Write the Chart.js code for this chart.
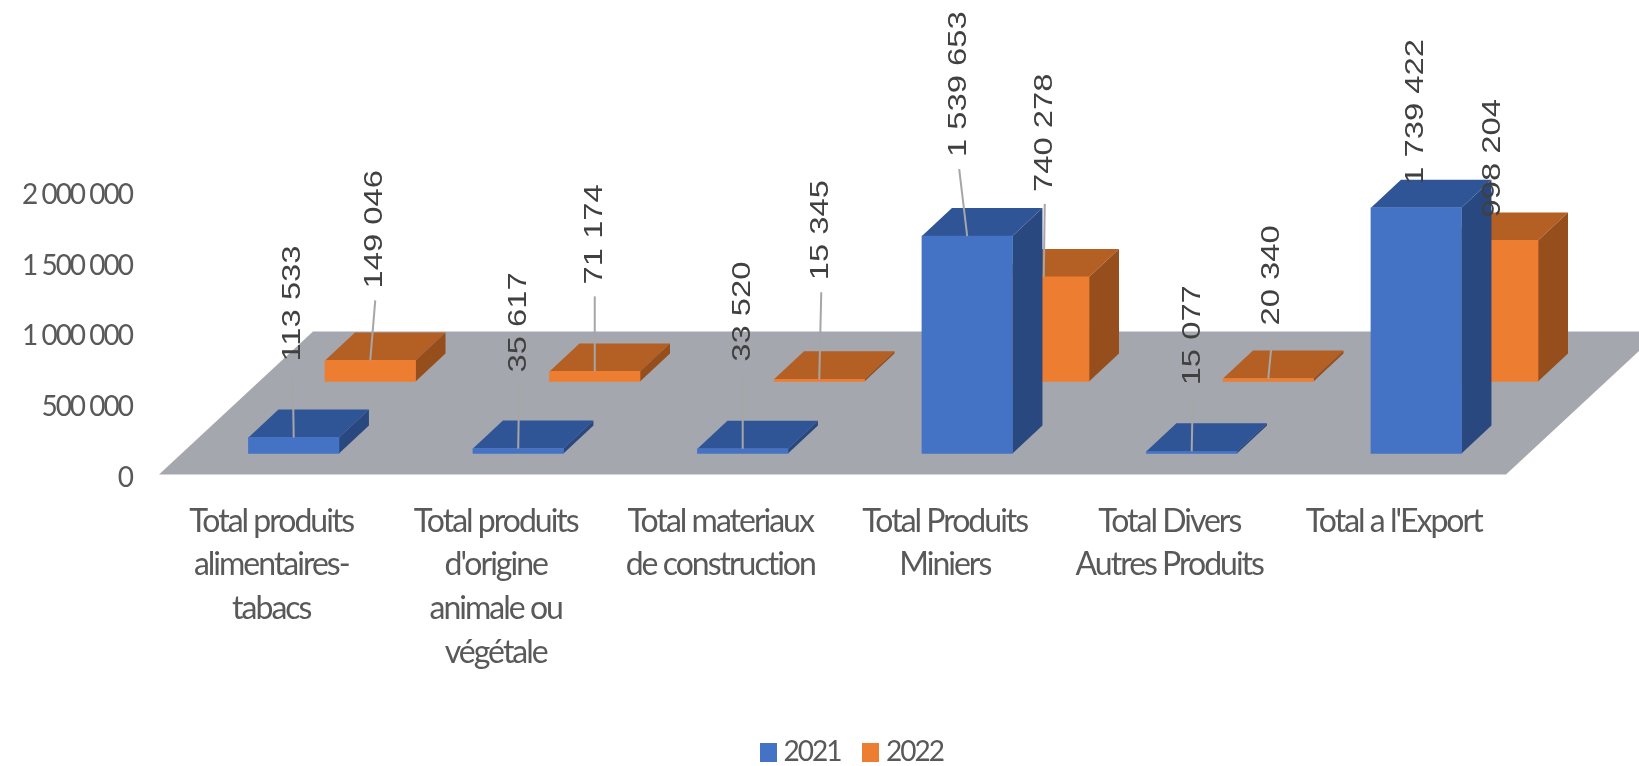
<!DOCTYPE html>
<html>
<head>
<meta charset="utf-8">
<title>Exportations 2021-2022</title>
<script src="https://cdn.jsdelivr.net/npm/chart.js@4/dist/chart.umd.min.js"></script>
<style>
  body { margin: 0; background: #fff; overflow: hidden; }
  canvas { display: block; }
</style>
</head>
<body>
<canvas id="bar-chart" width="1639" height="766"></canvas>
<script>
var categories = [
    ['Total produits', 'alimentaires-', 'tabacs'],
    ['Total produits', "d'origine", 'animale ou', 'végétale'],
    ['Total materiaux', 'de construction'],
    ['Total Produits', 'Miniers'],
    ['Total Divers', 'Autres Produits'],
    ["Total a l'Export"]
];
var values2021 = [113533, 35617, 33520, 1539653, 15077, 1739422];
var values2022 = [149046, 71174, 15345, 740278, 20340, 998204];
var yTicks = [0, 500000, 1000000, 1500000, 2000000];

// where each rotated value label starts, relative to the top of its bar
var labelShift2021 = [[-1, -76], [1, -76], [0, -87], [-8, -79], [1, -66], [0, -23]];
var labelShift2022 = [[5, -72], [0, -87], [2, -99], [1, -85], [4, -53], [0, -23]];

var TEXT = '#595959';
var NARROW = 'Lato, sans-serif';

function spaced(v) {
    return String(v).replace(/\B(?=(\d{3})+$)/g, ' ');
}

function toPoints(values) {
    return values.map(function(v, i) { return { x: i, y: v }; });
}

function swatch(color) {
    var c = document.createElement('canvas');
    c.width = 17;
    c.height = 19;
    var g = c.getContext('2d');
    g.fillStyle = color;
    g.fillRect(0, 0, 17, 19);
    return c;
}

var faces = [
    { top: '#2F5597', side: '#2A4880', shift: labelShift2021 },
    { top: '#B45F23', side: '#964F1C', shift: labelShift2022 }
];

function polygon(ctx, color, pts) {
    ctx.fillStyle = color;
    ctx.beginPath();
    ctx.moveTo(pts[0][0], pts[0][1]);
    for (var i = 1; i < pts.length; i++) ctx.lineTo(pts[i][0], pts[i][1]);
    ctx.closePath();
    ctx.fill();
}

var box3d = {
    id: 'box3d',
    afterLayout: function(chart) {
        // the legend sits lower and further right than the layout would put it
        chart.legend.left = 738;
        chart.legend.top = 708.5;
    },
    beforeDraw: function(chart) {
        // no narrow font installed, so tighten the axis and legend text
        chart.ctx.letterSpacing = '-2px';
    },
    beforeDatasetsDraw: function(chart) {
        var x = chart.scales.x, y0 = chart.scales.y.getPixelForValue(0) - 3;
        polygon(chart.ctx, '#A5A7AE', [
            [x.left, y0], [x.right, y0], [x.right + 154, y0 - 143], [x.left + 154, y0 - 143]
        ]);
    },
    beforeDatasetDraw: function(chart, args) {
        var f = faces[args.index], dx = 30, dy = 28;
        chart.getDatasetMeta(args.index).data.forEach(function(bar) {
            var p = bar.getProps(['x', 'y', 'base', 'width'], true);
            var l = p.x - p.width / 2, r = p.x + p.width / 2;
            polygon(chart.ctx, f.top, [[l, p.y], [r, p.y], [r + dx, p.y - dy], [l + dx, p.y - dy]]);
            polygon(chart.ctx, f.side, [[r, p.y], [r + dx, p.y - dy], [r + dx, p.base - dy], [r, p.base]]);
        });
    },
    afterDatasetsDraw: function(chart) {
        var ctx = chart.ctx;
        chart.data.datasets.forEach(function(ds, d) {
            chart.getDatasetMeta(d).data.forEach(function(bar, i) {
                var p = bar.getProps(['x', 'y'], true);
                var s = faces[d].shift[i];
                var lx = p.x + s[0], ly = p.y + s[1];
                ctx.save();
                if (s[1] < -30) {
                    ctx.strokeStyle = '#A6A6A6';
                    ctx.lineWidth = 2;
                    ctx.beginPath();
                    ctx.moveTo(p.x, p.y);
                    ctx.lineTo(lx, ly + 12);
                    ctx.stroke();
                }
                ctx.translate(lx, ly);
                ctx.rotate(-Math.PI / 2);
                ctx.scale(1.26, 1);
                ctx.letterSpacing = '0px';
                ctx.font = '26px "Liberation Sans", sans-serif';
                ctx.fillStyle = '#404040';
                ctx.textAlign = 'left';
                ctx.textBaseline = 'middle';
                ctx.fillText(spaced(ds.data[i].y), 0, 0);
                ctx.restore();
            });
        });
    }
};

new Chart(document.getElementById('bar-chart'), {
    type: 'bar',
    plugins: [box3d],
    data: {
        labels: categories,
        datasets: [
            {
                label: '2021',
                data: toPoints(values2021),
                backgroundColor: '#4472C4',
                xAxisID: 'x2021',
                yAxisID: 'y2021',
                barThickness: 90.5,
                grouped: false,
                clip: false
            },
            {
                label: '2022',
                data: toPoints(values2022),
                backgroundColor: '#ED7D31',
                xAxisID: 'x2022',
                yAxisID: 'y2022',
                barThickness: 90.5,
                grouped: false,
                clip: false
            }
        ]
    },
    options: {
        responsive: false,
        animation: false,
        layout: { autoPadding: false, padding: { top: 195, right: 133, left: 0, bottom: 0 } },
        plugins: {
            tooltip: { enabled: false },
            legend: {
                position: 'bottom',
                align: 'start',
                labels: {
                    color: TEXT,
                    font: { family: NARROW, size: 28 },
                    usePointStyle: true,
                    boxWidth: 2,
                    padding: 29.5,
                    generateLabels: function(chart) {
                        return chart.data.datasets.map(function(ds, i) {
                            return {
                                text: ds.label,
                                fontColor: TEXT,
                                pointStyle: swatch(ds.backgroundColor),
                                datasetIndex: i
                            };
                        });
                    }
                }
            }
        },
        scales: {
            x: {
                type: 'category',
                offset: true,
                grid: { display: false, drawTicks: false },
                border: { display: false },
                afterFit: function(scale) { scale.height = 221; },
                ticks: {
                    color: TEXT,
                    autoSkip: false,
                    maxRotation: 0,
                    minRotation: 0,
                    padding: 22,
                    font: { family: NARROW, size: 32, lineHeight: 1.365 }
                }
            },
            y: {
                type: 'linear',
                min: 0,
                max: 2000000,
                grid: { display: false, drawTicks: false },
                border: { display: false },
                afterFit: function(scale) { scale.width = 159; },
                afterBuildTicks: function(scale) {
                    scale.ticks = yTicks.map(function(v) { return { value: v }; });
                },
                ticks: {
                    color: TEXT,
                    padding: 27,
                    font: { family: NARROW, size: 28 },
                    callback: function(v) { return spaced(v); }
                }
            },
            // hidden scales: front row and back row stand at different depths on the floor
            x2021: { type: 'linear', display: false, offset: false, min: -0.6, max: 5.4 },
            x2022: { type: 'linear', display: false, offset: false, min: -0.941, max: 5.059 },
            y2021: { type: 'linear', display: false, min: -170000, max: 1830000 },
            y2022: { type: 'linear', display: false, min: -680000, max: 1320000 }
        }
    }
});
</script>
</body>
</html>
